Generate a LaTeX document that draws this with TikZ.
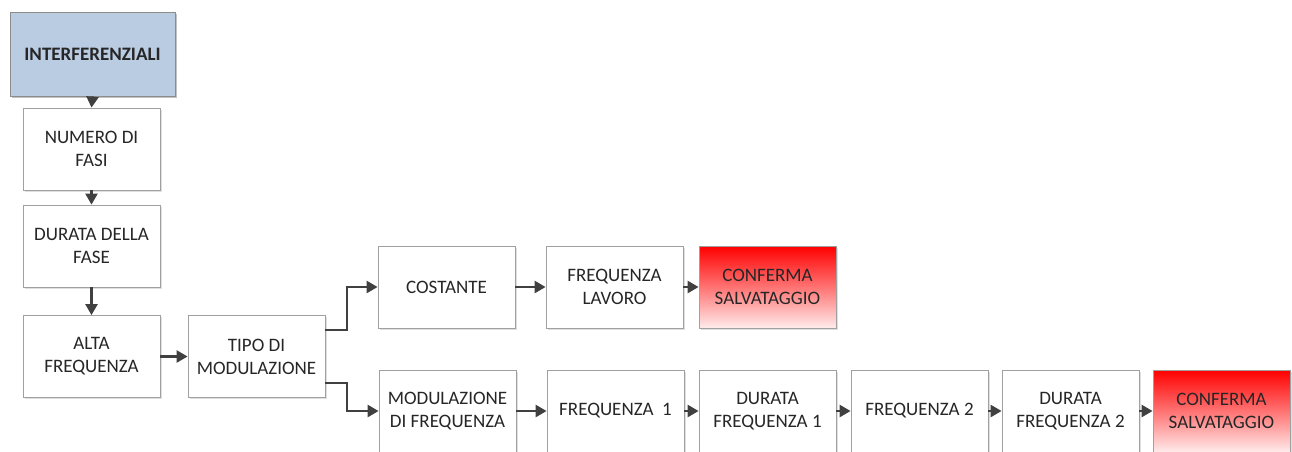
\documentclass[tikz,border=0pt]{standalone}
\usepackage{fontspec}
\setmainfont{Carlito}
\usetikzlibrary{arrows.meta,shadows}
\definecolor{txt}{HTML}{262626}
\definecolor{bord}{HTML}{A0A0A0}
\definecolor{arr}{HTML}{404040}
\definecolor{blu}{HTML}{BACCE2}
\tikzset{
  box/.style={draw=bord, line width=0.8pt, fill=white, minimum width=137pt, minimum height=82pt,
    align=center, text=txt, font=\fontsize{19}{23}\selectfont, inner sep=2pt,
    drop shadow={shadow xshift=1.5pt, shadow yshift=-1.5pt, fill=black!25}},
  redbox/.style={box, shading=axis, top color=red, bottom color=red!8!white, middle color=red!55!white},
  titlebox/.style={box, fill=blu, draw=black!45, minimum width=165pt, minimum height=84pt, font=\fontsize{19}{23}\selectfont\bfseries,
    drop shadow={shadow xshift=2pt, shadow yshift=-2pt, fill=black!35}},
  conn/.style={draw=arr, line width=2.4pt, -{Triangle[length=11pt,width=12pt]}}
}
\begin{document}
\begin{tikzpicture}[x=1pt,y=-1pt]
\useasboundingbox (0,0) rectangle (1292,451);
\begin{scope}
\clip (0,0) rectangle (1292,451);
\node[titlebox] (int) at (92.5,54) {INTERFERENZIALI};
\node[box] (num) at (91.5,149) {NUMERO DI\\FASI};
\node[box] (dur) at (91.5,246) {DURATA DELLA\\FASE};
\node[box] (alta) at (91.5,356.5) {ALTA\\FREQUENZA};
\node[box] (tipo) at (256.5,356.5) {TIPO DI\\MODULAZIONE};
\node[box] (cost) at (446.5,287) {COSTANTE};
\node[box] (flav) at (614.5,287) {FREQUENZA\\LAVORO};
\node[redbox] (conf1) at (767.5,287) {CONFERMA\\SALVATAGGIO};
\node[box] (modf) at (447.5,411) {MODULAZIONE\\DI FREQUENZA};
\node[box] (f1) at (615.5,411) {FREQUENZA~~1};
\node[box] (df1) at (767.5,411) {DURATA\\FREQUENZA 1};
\node[box] (f2) at (919.5,411) {FREQUENZA 2};
\node[box] (df2) at (1070.5,411) {DURATA\\FREQUENZA 2};
\node[redbox] (conf2) at (1221.5,411) {CONFERMA\\SALVATAGGIO};

\draw[conn] (int.south) -- (num.north);
\draw[conn] (num.south) -- (dur.north);
\draw[conn] (dur.south) -- (alta.north);
\draw[conn] (alta.east) -- (tipo.west);
\coordinate (t1) at (tipo.east |- 0,330);
\coordinate (t2) at (tipo.east |- 0,383);
\draw[conn] (t1) -- (347,330) |- (cost.west);
\draw[conn] (t2) -- (347,383) |- (modf.west);
\draw[conn] (cost.east) -- (flav.west);
\draw[conn] (flav.east) -- (conf1.west);
\draw[conn] (modf.east) -- (f1.west);
\draw[conn] (f1.east) -- (df1.west);
\draw[conn] (df1.east) -- (f2.west);
\draw[conn] (f2.east) -- (df2.west);
\draw[conn] (df2.east) -- (conf2.west);
\end{scope}
\end{tikzpicture}
\end{document}
